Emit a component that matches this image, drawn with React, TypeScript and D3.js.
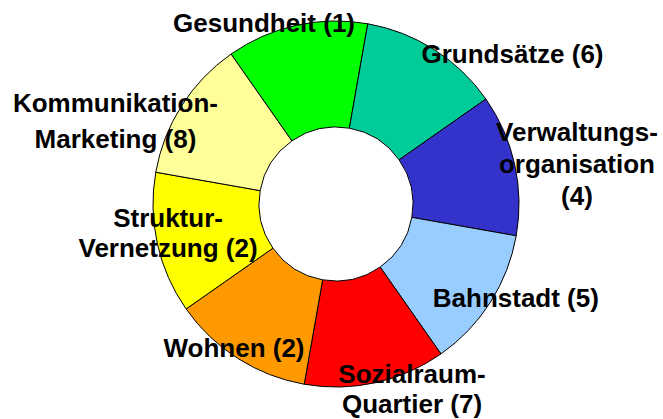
import React from "react";
import * as d3 from "d3";

const categories = [
  "Gesundheit (1)",
  "Grundsätze (6)",
  "Verwaltungs-\norganisation\n(4)",
  "Bahnstadt (5)",
  "Sozialraum-\nQuartier (7)",
  "Wohnen (2)",
  "Struktur-\nVernetzung (2)",
  "Kommunikation-\nMarketing (8)",
];
const values = [1, 1, 1, 1, 1, 1, 1, 1];
const colors = ["#00FF00", "#00CC99", "#3333CC", "#99CCFF", "#FF0000", "#FF9900", "#FFFF00", "#FFFF99"];

// label placement relative to slice's outer midpoint: [dx, dy(first baseline), lineHeight]
const labelLayout: [number, number, number][] = [
  [-32.4, 6.4, 0],
  [78.2, 13.6, 0],
  [62.3, -23.4, 32],
  [25.5, 4.4, 0],
  [36.4, 0, 30],
  [-3.7, -1.6, 0],
  [10.7, -16.9, 30.6],
  [-66.2, 6.6, 36],
];

const W = 663;
const H = 419;
const cx = 336;
const cy = 204;
const outerR = 183;
const innerR = 77;

export default function App() {
  const start = (-35 * Math.PI) / 180;
  const pie = d3
    .pie<number>()
    .sort(null)
    .value((d) => d)
    .startAngle(start)
    .endAngle(start + 2 * Math.PI);
  const arcs = pie(values);
  const arc = d3.arc<d3.PieArcDatum<number>>().innerRadius(innerR).outerRadius(outerR);

  return (
    <svg
      width={W}
      height={H}
      style={{ position: "absolute", left: 0, top: 0, display: "block", background: "#fff" }}
    >
      <g transform={`translate(${cx},${cy})`}>
        {arcs.map((a, i) => (
          <path key={i} d={arc(a) || ""} fill={colors[i]} stroke="#000" strokeWidth={1} />
        ))}
        {arcs.map((a, i) => {
          const mid = (a.startAngle + a.endAngle) / 2;
          const ax = outerR * Math.sin(mid);
          const ay = -outerR * Math.cos(mid);
          const [dx, dy, lh] = labelLayout[i];
          const lines = categories[i].split("\n");
          return (
            <text
              key={"t" + i}
              x={ax + dx}
              y={ay + dy}
              textAnchor="middle"
              fontFamily="'Liberation Sans', Arial, sans-serif"
              fontWeight="bold"
              fontSize={26}
              fill="#000"
            >
              {lines.map((l, j) => (
                <tspan key={j} x={ax + dx} y={ay + dy + j * lh}>
                  {l}
                </tspan>
              ))}
            </text>
          );
        })}
      </g>
    </svg>
  );
}
